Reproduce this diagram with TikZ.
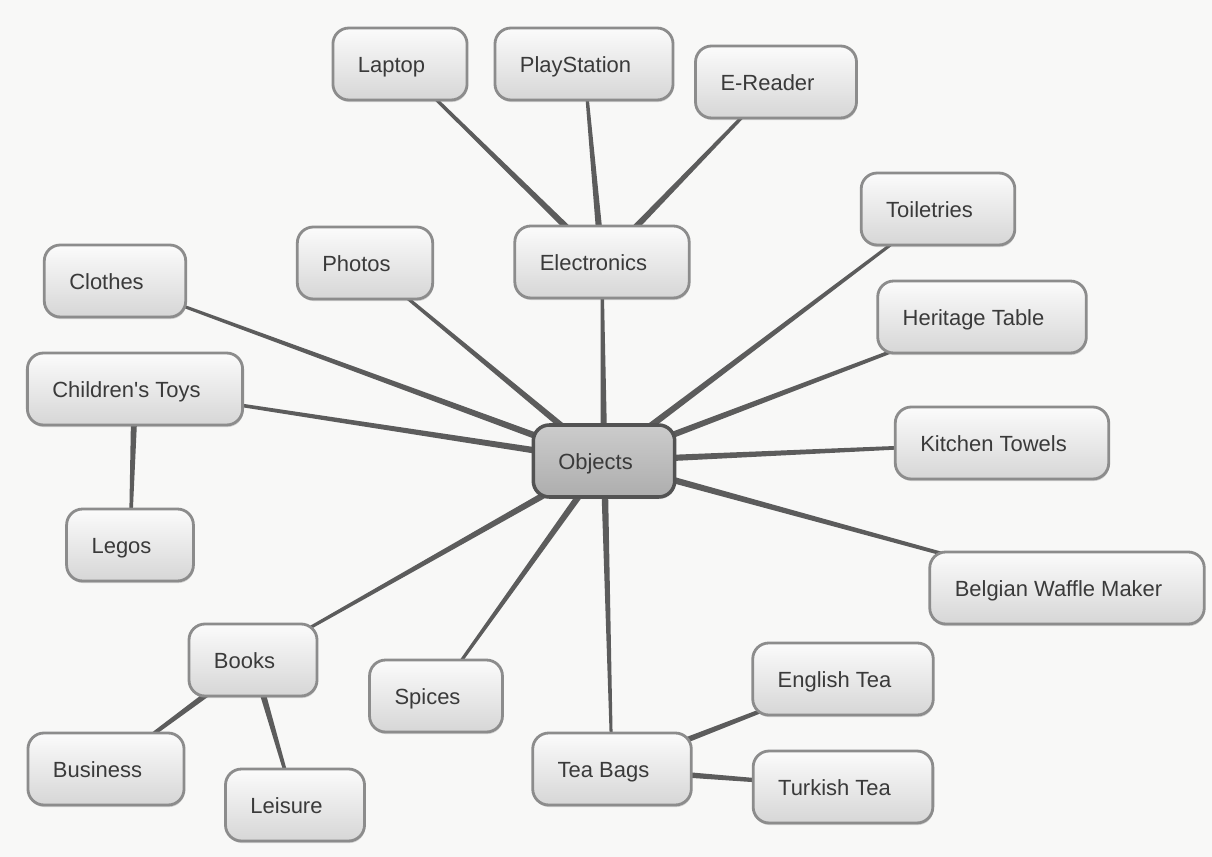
\documentclass[tikz,border=0pt]{standalone}
\usepackage{fontspec}
\setmainfont{Liberation Sans}
\usetikzlibrary{calc,backgrounds,shadows}
\definecolor{paper}{HTML}{F8F8F7}
\definecolor{boxline}{HTML}{8C8C8C}
\definecolor{linkgray}{HTML}{5C5C5C}
\definecolor{textgray}{HTML}{3A3A3A}
\newcommand{\branch}[2]{%
  \fill[link] ($(#1.center)!2pt!90:(#2.center)$) -- ($(#2.center)!0.7pt!-90:(#1.center)$)
    -- ($(#2.center)!0.7pt!90:(#1.center)$) -- ($(#1.center)!2pt!-90:(#2.center)$) -- cycle;}

\begin{document}
\begin{tikzpicture}[x=0.02cm, y=-0.02cm,
  item/.style={draw=boxline, line width=1.6pt, rounded corners=0.32cm, top color=gray!3, bottom color=gray!32,
    minimum height=1.44cm, inner xsep=0.5cm, text height=12.4pt, text depth=2.6pt, text=textgray,
    font=\fontsize{12.5}{15}\selectfont, execute at end node={\hspace{0.34cm}},
    drop shadow={opacity=0.3, shadow xshift=0.4pt, shadow yshift=-1.2pt}},
  hub/.style={item, draw=gray!65!black, line width=2pt, top color=gray!40, bottom color=gray!64},
  link/.style={fill=linkgray}]
\useasboundingbox (0,0) rectangle (1212,857);

\node[item] (laptop)   at (400,64)  {Laptop};
\node[item] (ps)       at (584,64)  {PlayStation};
\node[item] (ereader)  at (776,82)  {E-Reader};
\node[item] (elec)     at (602,262) {Electronics};
\node[item] (toil)     at (938,209) {Toiletries};
\node[item] (photos)   at (365,263) {Photos};
\node[item] (clothes)  at (115,281) {Clothes};
\node[item] (heritage) at (982,317) {Heritage Table};
\node[item] (toys)     at (135,389) {Children\textquotesingle s Toys};
\node[hub]  (obj)      at (604,461) {Objects};
\node[item] (towels)   at (1002,443) {Kitchen Towels};
\node[item] (legos)    at (130,545) {Legos};
\node[item] (waffle)   at (1067,588) {Belgian Waffle Maker};
\node[item] (books)    at (253,660) {Books};
\node[item] (spices)   at (436,696) {Spices};
\node[item] (engtea)   at (843,679) {English Tea};
\node[item] (business) at (106,769) {Business};
\node[item] (leisure)  at (295,805) {Leisure};
\node[item] (teabags)  at (612,769) {Tea Bags};
\node[item] (turktea)  at (843,787) {Turkish Tea};

\begin{scope}[on background layer]
\fill[paper] (0,0) rectangle (1212,857);
\foreach \a/\b in {obj/elec, elec/laptop, elec/ps, elec/ereader, obj/toil, obj/photos, obj/clothes,
    obj/heritage, obj/toys, toys/legos, obj/towels, obj/waffle, obj/books, books/business,
    books/leisure, obj/spices, obj/teabags, teabags/engtea, teabags/turktea}
  {\branch{\a}{\b}}
\end{scope}
\end{tikzpicture}
\end{document}
